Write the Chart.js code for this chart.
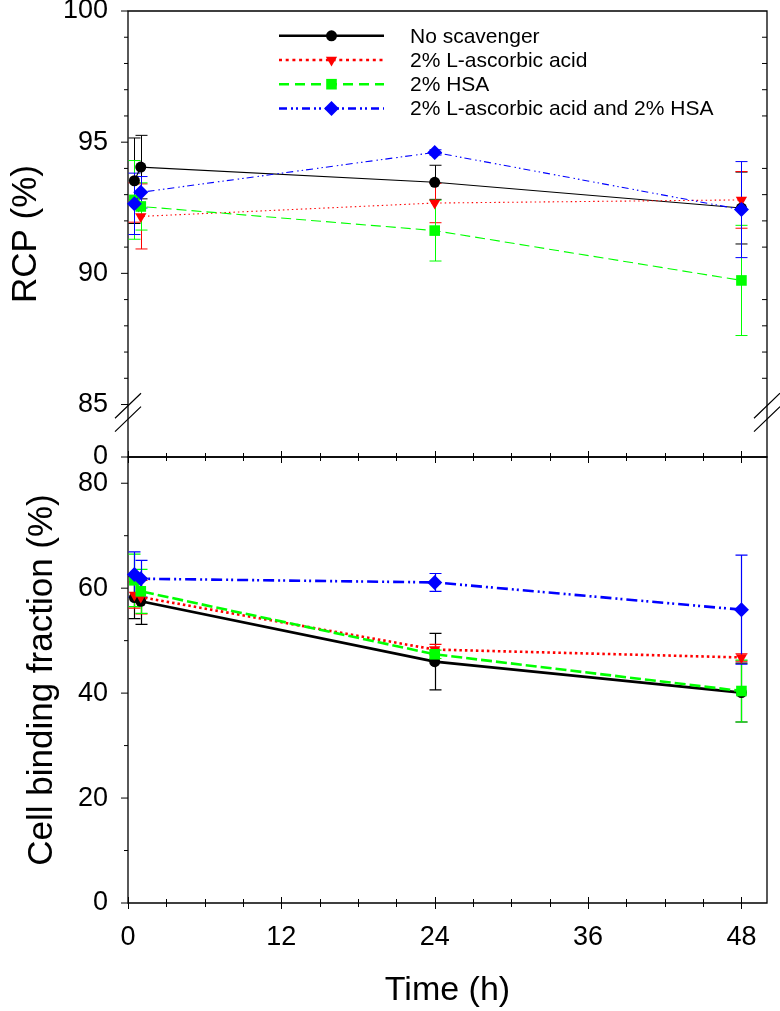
<!DOCTYPE html>
<html>
<head>
<meta charset="utf-8">
<script src="https://cdn.jsdelivr.net/npm/chart.js@4.4.1/dist/chart.umd.min.js"></script>
<style>
  html, body { margin: 0; padding: 0; background: #fff; }
  #wrap { position: relative; width: 780px; height: 1011px; }
  canvas { position: absolute; left: 0; }
</style>
</head>
<body>
<div id="wrap">
  <canvas id="cell-chart" width="780" height="571" style="top:440px"></canvas>
  <canvas id="rcp-chart" width="780" height="475" style="top:0"></canvas>
</div>
<script>
const FONT =
  "'Liberation Sans', Arial, sans-serif";

// DATA

const timePoints = [0.5, 1, 24, 48];
const timeTicks = [0, 12, 24, 36, 48];
const timeMinorStep = 3;

const seriesNames = [
  'No scavenger',
  '2% L-ascorbic acid',
  '2% HSA',
  '2% L-ascorbic acid and 2% HSA',
];

// RCP (%)
const rcpNoScavenger = [93.53, 94.05, 93.47, 92.49];
const rcpAscorbic = [92.70, 92.17, 92.68, 92.80];
const rcpHsa = [92.80, 92.55, 91.63, 89.73];
const rcpBoth = [92.65, 93.09, 94.61, 92.43];

const rcpNoScavengerErr = [1.63, 1.21, 0.65, 1.37];
const rcpAscorbicErr = [0.75, 1.24, 0.75, 1.08];
const rcpHsaErr = [1.50, 0.90, 1.16, 2.10];
const rcpBothErr = [1.17, 0.60, 0.10, 1.83];

const rcpTicks = [85, 90, 95, 100];
const rcpBreakLabel = '0';
const rcpMinorStep = 1;

// Cell binding fraction (%)
const cellNoScavenger = [58.2, 57.5, 46.0, 40.1];
const cellAscorbic = [58.7, 58.3, 48.3, 46.8];
const cellHsa = [61.5, 59.4, 47.4, 40.4];
const cellBoth = [62.6, 61.8, 61.1, 55.9];

const cellNoScavengerErr = [4.0, 4.4, 5.4, 5.6];
const cellAscorbicErr = [2.5, 3.2, 1.0, 0.7];
const cellHsaErr = [5.0, 4.2, 0.8, 5.9];
const cellBothErr = [4.3, 3.5, 1.7, 10.4];

const cellTicks = [0, 20, 40, 60, 80];
const cellMinorStep = 10;

// STYLES

const seriesStyles = [
  {
    color: '#000000',
    dashTop: [],
    dashBottom: [],
    dashLegend: [],
    pointStyle: 'circle',
    radius: 5.5,
    rotation: 0,
  },
  {
    color: '#ff0000',
    dashTop: [1.5, 3],
    dashBottom: [2.5, 3],
    dashLegend: [3, 3.7],
    pointStyle: 'triangle',
    radius: 6.5,
    rotation: 180,
  },
  {
    color: '#00ff00',
    dashTop: [10, 5],
    dashBottom: [11, 4],
    dashLegend: [10, 6],
    pointStyle: 'rect',
    radius: 7.5,
    rotation: 0,
  },
  {
    color: '#0000ff',
    dashTop: [7, 4, 1.5, 3, 1.5, 3],
    dashBottom: [11, 4, 2, 3, 2, 4],
    dashLegend: [8, 4, 2, 3, 2, 4],
    pointStyle: 'rectRot',
    radius: 7.5,
    rotation: 0,
  },
];

const buildDatasets = (
  seriesValues,
  seriesErrors,
  lineWidth,
  dashKey
) =>
  seriesValues.map((values, i) => {
    const s = seriesStyles[i];
    return {
      label: seriesNames[i],
      data: timePoints.map((t, j) => ({ x: t, y: values[j] })),
      errors: seriesErrors[i],
      borderColor: s.color,
      backgroundColor: s.color,
      borderWidth: lineWidth,
      borderDash: s[dashKey],
      borderCapStyle: 'butt',
      pointStyle: s.pointStyle,
      pointRadius: s.radius,
      pointRotation: s.rotation,
      pointBorderWidth: 0,
      pointBackgroundColor: s.color,
      tension: 0,
      clip: false,
      order: seriesValues.length - i,
    };
  });

// PLUGINS

const errorBarPlugin = {
  id: 'errorBars',
  beforeDatasetsDraw(chart, args, opts) {
    const { ctx, scales: { x, y } } = chart;
    ctx.save();
    ctx.lineWidth = opts.lineWidth;
    ctx.setLineDash([]);
    chart.data.datasets.forEach(ds => {
      ctx.strokeStyle = ds.borderColor;
      ds.data.forEach((p, j) => {
        const e = ds.errors[j];
        const px = Math.round(x.getPixelForValue(p.x)) + 0.5;
        const top = y.getPixelForValue(p.y + e);
        const bot = y.getPixelForValue(p.y - e);
        ctx.beginPath();
        ctx.moveTo(px, top);
        ctx.lineTo(px, bot);
        ctx.moveTo(px - opts.cap, top);
        ctx.lineTo(px + opts.cap, top);
        ctx.moveTo(px - opts.cap, bot);
        ctx.lineTo(px + opts.cap, bot);
        ctx.stroke();
      });
    });
    ctx.restore();
  },
};

const framePlugin = {
  id: 'frame',
  beforeDatasetsDraw(chart, args, opts) {
    const { ctx, chartArea: a, scales: { x, y } } = chart;
    ctx.save();
    ctx.strokeStyle = '#000';
    ctx.lineWidth = 1.3;
    ctx.beginPath();
    ctx.rect(a.left, a.top, a.right - a.left, a.bottom - a.top);
    ctx.stroke();

    ctx.lineWidth = 1;
    ctx.beginPath();
    const majors = y.ticks.map(t => t.value);
    majors.forEach(v => {
      const py = y.getPixelForValue(v);
      ctx.moveTo(a.left - 7, py);
      ctx.lineTo(a.left, py);
    });
    for (let v = opts.minorFrom; v <= y.max; v += opts.minorStep) {
      if (majors.includes(v)) continue;
      const py = y.getPixelForValue(v);
      ctx.moveTo(a.left - 4, py);
      ctx.lineTo(a.left, py);
      if (opts.rightMinor) {
        ctx.moveTo(a.right - 5, py);
        ctx.lineTo(a.right, py);
      }
    }
    for (let t = 0; t <= timeTicks[timeTicks.length - 1]; t += timeMinorStep) {
      const px = Math.round(x.getPixelForValue(t)) + 0.5;
      const len = timeTicks.includes(t) ? 6 : 4;
      ctx.moveTo(px, a.bottom - len);
      ctx.lineTo(px, a.bottom + len);
    }
    ctx.stroke();
    ctx.restore();
  },
  afterDraw(chart, args, opts) {
    if (!opts.breakAt) return;
    const { ctx, chartArea: a, scales: { y } } = chart;
    const cy = y.getPixelForValue(opts.breakAt);
    ctx.save();
    ctx.strokeStyle = '#000';
    ctx.lineWidth = 1.2;
    ctx.beginPath();
    [a.left, a.right].forEach(ax => {
      [-6.7, 6.7].forEach(off => {
        ctx.moveTo(ax - 13, cy + off + 12.5);
        ctx.lineTo(ax + 13, cy + off - 12.5);
      });
    });
    ctx.stroke();
    ctx.restore();
  },
};

const legendPlugin = {
  id: 'sampleLegend',
  afterDraw(chart, args, opts) {
    if (!opts.show) return;
    const { ctx } = chart;
    chart.data.datasets.forEach((ds, i) => {
      const s = seriesStyles[i];
      const ly = opts.top + i * opts.rowGap;
      ctx.save();
      ctx.strokeStyle = s.color;
      ctx.lineWidth = opts.lineWidth;
      ctx.setLineDash(s.dashLegend);
      ctx.beginPath();
      ctx.moveTo(opts.lineX0, ly);
      ctx.lineTo(opts.lineX1, ly);
      ctx.stroke();
      ctx.setLineDash([]);
      ctx.fillStyle = s.color;
      Chart.helpers.drawPoint(
        ctx,
        {
          pointStyle: s.pointStyle,
          radius: s.radius,
          rotation: s.rotation,
          borderWidth: 0,
        },
        (opts.lineX0 + opts.lineX1) / 2,
        ly
      );
      ctx.fillStyle = '#000';
      ctx.font = `21px ${FONT}`;
      ctx.textBaseline = 'middle';
      ctx.textAlign = 'left';
      ctx.fillText(ds.label, opts.textX, ly + 1);
      ctx.restore();
    });
  },
};

// CHART BUILDER

const makeChart = (canvas, cfg) =>
  new Chart(canvas, {
    type: 'line',
    data: { datasets: cfg.datasets },
    plugins: [framePlugin, errorBarPlugin, legendPlugin],
    options: {
      responsive: false,
      animation: false,
      layout: {
        padding: { left: 0, right: 13, top: cfg.padTop, bottom: 0 },
      },
      plugins: {
        legend: { display: false },
        tooltip: { enabled: false },
        frame: {
          minorFrom: cfg.minorFrom,
          minorStep: cfg.minorStep,
          rightMinor: cfg.rightMinor,
          breakAt: cfg.breakAt,
        },
        errorBars: { lineWidth: cfg.errWidth, cap: 6 },
        sampleLegend: cfg.legend,
      },
      scales: {
        x: {
          type: 'linear',
          min: 0,
          max: 50,
          grid: { display: false, drawTicks: false },
          border: { display: false },
          afterBuildTicks: scale => {
            scale.ticks = timeTicks.map(v => ({ value: v }));
          },
          afterFit: scale => {
            scale.height = cfg.xHeight;
            scale.paddingLeft = 0;
            scale.paddingRight = 0;
          },
          ticks: {
            display: cfg.xLabels,
            autoSkip: false,
            maxRotation: 0,
            padding: 18,
            color: '#000',
            font: { family: FONT, size: 27 },
          },
          title: {
            display: cfg.xLabels,
            text: 'Time (h)',
            color: '#000',
            padding: { top: 0, bottom: 0 },
            font: { family: FONT, size: 34 },
          },
        },
        y: {
          type: 'linear',
          min: cfg.yMin,
          max: cfg.yMax,
          grid: { display: false, drawTicks: false },
          border: { display: false },
          afterBuildTicks: scale => {
            scale.ticks = cfg.yTicks.map(v => ({ value: v }));
          },
          afterFit: scale => {
            scale.width = 128;
            scale.paddingTop = 0;
            scale.paddingBottom = 0;
          },
          ticks: {
            padding: 20,
            color: '#000',
            font: { family: FONT, size: 27 },
            callback: cfg.yLabel,
          },
          title: {
            display: true,
            text: cfg.yTitle,
            color: '#000',
            padding: { top: cfg.yTitlePad, bottom: 0 },
            font: { family: FONT, size: 35 },
          },
        },
      },
    },
  });

// TOP PANEL: RCP

const rcpMin = 83;

makeChart(document.getElementById('rcp-chart'), {
  datasets: buildDatasets(
    [rcpNoScavenger, rcpAscorbic, rcpHsa, rcpBoth],
    [rcpNoScavengerErr, rcpAscorbicErr, rcpHsaErr, rcpBothErr],
    1.1,
    'dashTop'
  ),
  padTop: 11,
  xHeight: 18,
  xLabels: false,
  yMin: rcpMin,
  yMax: 100,
  yTicks: [rcpMin, ...rcpTicks],
  yLabel: v => (v === rcpMin ? rcpBreakLabel : v),
  yTitle: 'RCP (%)',
  yTitlePad: 5,
  minorFrom: rcpTicks[0],
  minorStep: rcpMinorStep,
  rightMinor: true,
  breakAt: 84.7,
  errWidth: 1,
  legend: {
    show: true,
    top: 35.8,
    rowGap: 24.2,
    lineX0: 279,
    lineX1: 384,
    textX: 410,
    lineWidth: 2.5,
  },
});

// BOTTOM PANEL: CELL BINDING

makeChart(document.getElementById('cell-chart'), {
  datasets: buildDatasets(
    [cellNoScavenger, cellAscorbic, cellHsa, cellBoth],
    [cellNoScavengerErr, cellAscorbicErr, cellHsaErr, cellBothErr],
    2.6,
    'dashBottom'
  ),
  padTop: 17,
  xHeight: 108,
  xLabels: true,
  yMin: 0,
  yMax: 85,
  yTicks: cellTicks,
  yLabel: v => v,
  yTitle: 'Cell binding fraction (%)',
  yTitlePad: 21,
  minorFrom: cellTicks[0],
  minorStep: cellMinorStep,
  rightMinor: false,
  breakAt: null,
  errWidth: 1.2,
  legend: { show: false },
});
</script>
</body>
</html>
